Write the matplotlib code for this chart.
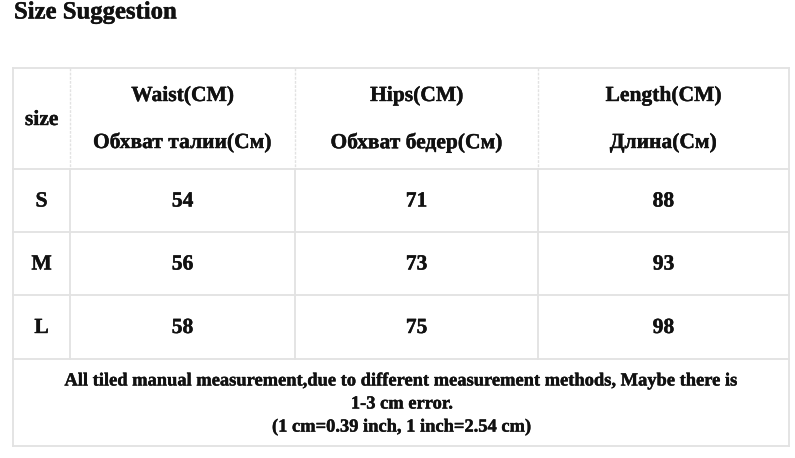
import matplotlib
matplotlib.use('Agg')
import matplotlib.pyplot as plt
import matplotlib.patheffects as pe

# Datos de la tabla
titulo = 'Size Suggestion'
encabezados_en = ['Waist(CM)', 'Hips(CM)', 'Length(CM)']
encabezados_ru = ['Обхват талии(См)', 'Обхват бедер(См)', 'Длина(См)']
tallas = ['S', 'M', 'L']
cintura = [54, 56, 58]
cadera = [71, 73, 75]
largo = [88, 93, 98]
nota = ['All tiled manual measurement,due to different measurement methods, Maybe there is',
        '1-3 cm error.',
        '(1 cm=0.39 inch, 1 inch=2.54 cm)']

# Geometria en pixeles
xs = [13, 70, 295, 538, 789]
ys = [68, 169, 232, 295, 359, 446]
gris = '#e2e2e2'

plt.rcParams['font.family'] = ['Liberation Serif', 'DejaVu Serif']
fig = plt.figure(figsize=(7.95, 4.58), dpi=100)
ax = fig.add_axes([0, 0, 1, 1])
ax.set_xlim(0, 795)
ax.set_ylim(458, 0)
ax.axis('off')

# Lineas horizontales
for y in ys:
    ax.plot([xs[0], xs[-1]], [y, y], color=gris, lw=1.3)
# Lineas verticales exteriores
ax.plot([xs[0], xs[0]], [ys[0], ys[-1]], color=gris, lw=1.3)
ax.plot([xs[-1], xs[-1]], [ys[0], ys[-1]], color=gris, lw=1.3)
# Lineas verticales interiores
for x in xs[1:-1]:
    ax.plot([x, x], [ys[0], ys[1]], color=gris, lw=1, linestyle=(0, (2, 1)))
    ax.plot([x, x], [ys[1], ys[4]], color=gris, lw=1.3)

centros = [(xs[i] + xs[i + 1]) / 2 for i in range(4)]
fs = 15.5
grueso = [pe.withStroke(linewidth=0.3, foreground='#111111')]
estilo = dict(ha='center', va='center', fontweight='bold', color='#111111',
              path_effects=grueso)

ax.text(14, 12, titulo, ha='left', va='center', fontsize=17.8,
        fontweight='bold', color='#111111', path_effects=grueso)

ax.text(centros[0], 120, 'size', fontsize=fs, **estilo)
for i in range(3):
    ax.text(centros[i + 1], 96, encabezados_en[i], fontsize=fs, **estilo)
    ax.text(centros[i + 1], 143, encabezados_ru[i], fontsize=fs, **estilo)

columnas = [cintura, cadera, largo]
for j, t in enumerate(tallas):
    yc = (ys[j + 1] + ys[j + 2]) / 2 + 1
    ax.text(centros[0], yc, t, fontsize=fs, **estilo)
    for i in range(3):
        ax.text(centros[i + 1], yc, str(columnas[i][j]), fontsize=fs, **estilo)

for k, linea in enumerate(nota):
    ax.text(402, 381 + 23 * k, linea, fontsize=13.3, **estilo)

fig.savefig('out.png', dpi=100, facecolor='white')
